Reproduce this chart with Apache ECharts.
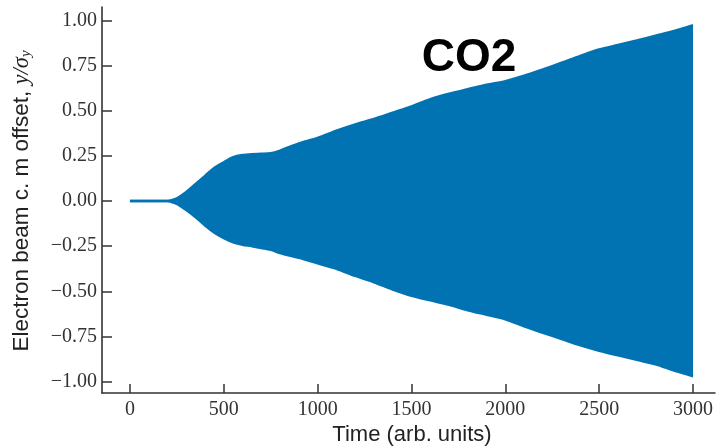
<!DOCTYPE html>
<html>
<head>
<meta charset="utf-8">
<script src="https://cdn.jsdelivr.net/npm/echarts@6/dist/echarts.min.js"></script>
<style>html,body{margin:0;padding:0;background:#fff}#c{width:716px;height:446px}</style>
</head>
<body>
<div id="c"></div>
<script>
// Envelope of the oscillating electron-beam offset
var times = [0, 200, 215, 250, 300, 350, 400, 450, 500, 550, 600, 650, 700, 750, 800, 900, 1000, 1100, 1200, 1300, 1400, 1500, 1600, 1700, 1800, 1900, 2000, 2100, 2200, 2300, 2400, 2500, 2600, 2700, 2800, 2900, 3000];
var upper = [0, 0, 0.003, 0.015, 0.05, 0.095, 0.14, 0.185, 0.215, 0.243, 0.255, 0.26, 0.262, 0.265, 0.28, 0.32, 0.35, 0.39, 0.425, 0.455, 0.49, 0.525, 0.565, 0.595, 0.62, 0.645, 0.665, 0.695, 0.73, 0.767, 0.805, 0.84, 0.865, 0.89, 0.917, 0.943, 0.975];
var lower = [0, 0, -0.003, -0.015, -0.05, -0.09, -0.135, -0.175, -0.205, -0.228, -0.242, -0.25, -0.26, -0.27, -0.288, -0.315, -0.345, -0.375, -0.415, -0.45, -0.49, -0.525, -0.55, -0.575, -0.605, -0.63, -0.655, -0.695, -0.73, -0.765, -0.8, -0.83, -0.855, -0.88, -0.905, -0.94, -0.971];
var xTicks = [0, 500, 1000, 1500, 2000, 2500, 3000];
var xTickLabels = ['0', '500', '1000', '1500', '2000', '2500', '3000'];
var yTicks = [-1, -0.75, -0.5, -0.25, 0, 0.25, 0.5, 0.75, 1];
var yTickLabels = ['\u22121.00', '\u22120.75', '\u22120.50', '\u22120.25', '0.00', '0.25', '0.50', '0.75', '1.00'];

var blue = '#0173B2';
var chart = echarts.init(document.getElementById('c'), null, {renderer: 'canvas'});
function pairs(a) { return times.map(function (t, i) { return [t, a[i]]; }); }
var axisCol = '#333';
chart.setOption({
  animation: false,
  backgroundColor: '#fff',
  grid: {left: 102, right: 0, top: 7, bottom: 53, containLabel: false},
  xAxis: {
    type: 'value', min: -149, max: 3117,
    splitLine: {show: false},
    axisLine: {show: true, onZero: false, lineStyle: {color: axisCol, width: 1.6}},
    axisTick: {show: true, inside: true, length: 9, customValues: xTicks, lineStyle: {color: axisCol, width: 1.5}},
    axisLabel: {customValues: xTicks, margin: 7, fontFamily: 'Liberation Serif', fontSize: 20, color: '#333',
      formatter: function (v) { var i = xTicks.indexOf(Math.round(v)); return i >= 0 ? xTickLabels[i] : ''; }}
  },
  yAxis: {
    type: 'value', min: -1.064, max: 1.076,
    splitLine: {show: false},
    axisLine: {show: true, onZero: false, lineStyle: {color: axisCol, width: 1.6}},
    axisTick: {show: true, inside: true, length: 10, customValues: yTicks, lineStyle: {color: axisCol, width: 1.5}},
    axisLabel: {customValues: yTicks, margin: 5, fontFamily: 'Liberation Serif', fontSize: 20, color: '#333',
      formatter: function (v) { var i = yTicks.indexOf(Math.round(v * 100) / 100); return i >= 0 ? yTickLabels[i] : ''; }}
  },
  series: [
    {type: 'line', data: pairs(upper), smooth: 0.3, showSymbol: false, symbol: 'none', lineStyle: {color: blue, width: 2.5}, areaStyle: {color: blue, opacity: 1, origin: 0}},
    {type: 'line', data: pairs(lower), smooth: 0.3, showSymbol: false, symbol: 'none', lineStyle: {color: blue, width: 2.5}, areaStyle: {color: blue, opacity: 1, origin: 0}}
  ],
  graphic: [
    {type: 'text', x: 412, y: 435, style: {text: 'Time (arb. units)', font: '22px "Liberation Sans"', fill: '#222', align: 'center', verticalAlign: 'middle'}},
    {type: 'text', x: 22, y: 201, rotation: Math.PI / 2,
      style: {text: '{a|Electron beam c. m offset, }{b|y/σ}{c|y}', align: 'center', verticalAlign: 'middle', fill: '#222',
        rich: {
          a: {fontFamily: 'Liberation Sans', fontSize: 22.5, fill: '#222'},
          b: {fontFamily: 'Liberation Serif', fontStyle: 'italic', fontSize: 22.5, fill: '#222'},
          c: {fontFamily: 'Liberation Serif', fontStyle: 'italic', fontSize: 15, fill: '#222', padding: [8, 0, 0, 0]}
        }}},
    {type: 'text', x: 469, y: 58, style: {text: 'CO2', font: 'bold 46px "Liberation Sans"', fill: '#000', align: 'center', verticalAlign: 'middle'}}
  ]
});
</script>
</body>
</html>
